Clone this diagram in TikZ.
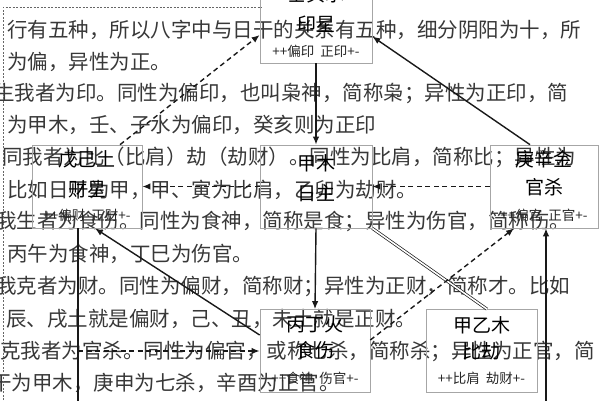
\documentclass[tikz,border=0pt]{standalone}
\usepackage{fontspec}
\newfontfamily\cjk{Noto Sans CJK SC}
\usetikzlibrary{arrows.meta,calc}
\begin{document}
\begin{tikzpicture}[x=1pt,y=-1pt,
  bgtext/.style={anchor=west, inner sep=0pt, font=\cjk\fontsize{20.5}{20.5}\selectfont, text=black!78},
  boxnode/.style={draw=black!35, line width=0.7pt, minimum width=#1, minimum height=83pt, inner sep=0pt},
  bigtext/.style={inner sep=0pt, font=\cjk\fontsize{19}{19}\selectfont, text=black},
  smalltext/.style={inner sep=0pt, font=\cjk\fontsize{13.5}{13.5}\selectfont, text=black!85},
  solidarrow/.style={line width=1.4pt, draw=black!90, -{Latex[length=8pt,width=6.5pt]}},
  dasharrow/.style={line width=1.4pt, draw=black!90, dash pattern=on 5pt off 3.5pt, -{Latex[length=8pt,width=6.5pt]}},
  plainline/.style={line width=1.4pt, draw=black!90},
  dbl/.style={line width=0.7pt, draw=black!90, double=white, double distance=1.6pt},
  frameline/.style={line width=0.8pt, draw=black!60, dash pattern=on 2pt off 1.5pt}]
\useasboundingbox (0,0) rectangle (600,400);
\fill[white] (0,0) rectangle (600,400);
% background text lines
\node[bgtext] (t1) at (7,30) {行有五种，所以八字中与日干的关系有五种，细分阴阳为十，所};
\node[bgtext] (t2) at (7,62) {为偏，异性为正。};
\node[bgtext] (t3) at (-6,93) {生我者为印。同性为偏印，也叫枭神，简称枭；异性为正印，简};
\node[bgtext] (t4) at (7,125) {为甲木，壬、子水为偏印，癸亥则为正印};
\node[bgtext] (t5) at (2,157) {同我者为比（比肩）劫（劫财）。同性为比肩，简称比；异性为};
\node[bgtext] (t6) at (7,190) {比如日干为甲，甲、寅为比肩，乙卯为劫财。};
\node[bgtext] (t7) at (-4,221) {我生者为食伤。同性为食神，简称是食；异性为伤官，简称伤。};
\node[bgtext] (t8) at (7,254) {丙午为食神，丁巳为伤官。};
\node[bgtext] (t9) at (-4,287) {我克者为财。同性为偏财，简称财；异性为正财，简称才。比如};
\node[bgtext] (t10) at (6,319) {辰、戌土就是偏财，己、丑，未土就是正财。};
\node[bgtext] (t11) at (0,351) {克我者为官杀。同性为偏官，或称七杀，简称杀；异性为正官，简};
\node[bgtext] (t12) at (-9,383) {干为甲木，庚申为七杀，辛酉为正官。};
% frame of the text block
\coordinate (fa) at (3,400);
\coordinate (fb) at (3,7);
\coordinate (fc) at (262,7);
\draw[frameline] (fa) -- (fb) -- (fc);
% boxes
\node[boxnode=112pt] (yin) at (316,21.5) {};
\node[boxnode=110pt] (cai) at (87,186.5) {};
\node[boxnode=112pt] (ri) at (316,186.5) {};
\node[boxnode=108pt] (guan) at (544,186.5) {};
\node[boxnode=110pt] (shi) at (315,351) {};
\node[boxnode=111pt] (bi) at (481.5,351) {};
% box texts
\node[bigtext] (yin1) at ($(yin.north)+(0,15)$) {壬癸水};
\node[bigtext] (yin2) at ($(yin.north)+(0,45)$) {印星};
\node[smalltext] (yin3) at ($(yin.north)+(0,72)$) {++偏印\ \ 正印+-};
\node[bigtext] (cai1) at ($(cai.north)+(0,15)$) {戊己土};
\node[bigtext] (cai2) at ($(cai.north)+(0,45)$) {财星};
\node[smalltext] (cai3) at ($(cai.north)+(0,71)$) {++偏财\ \ 正财+-};
\node[bigtext] (ri1) at ($(ri.north)+(0,19)$) {甲木};
\node[bigtext] (ri2) at ($(ri.north)+(0,49)$) {日主};
\node[bigtext] (guan1) at ($(guan.north)+(0,15)$) {庚辛金};
\node[bigtext] (guan2) at ($(guan.north)+(0,43)$) {官杀};
\node[smalltext] (guan3) at ($(guan.north)+(0,71)$) {++偏官\ \ 正官+-};
\node[bigtext] (shi1) at ($(shi.north)+(0,15)$) {丙丁火};
\node[bigtext] (shi2) at ($(shi.north)+(0,41)$) {食伤};
\node[smalltext] (shi3) at ($(shi.north)+(0,69)$) {++食神\ \ 伤官+-};
\node[bigtext] (bi1) at ($(bi.north)+(0,16)$) {甲乙木};
\node[bigtext] (bi2) at ($(bi.north)+(0,42)$) {比劫};
\node[smalltext] (bi3) at ($(bi.north)+(0,69)$) {++比肩\ \ 劫财+-};
% connectors
\draw[solidarrow] (yin.south) -- (ri.north);
\draw[dasharrow] ([xshift=33pt]cai.north) -- ([yshift=-13.5pt]yin.west);
\draw[solidarrow] ([xshift=-14pt]guan.north) -- ([yshift=-15pt]yin.east);
\draw[dasharrow] (guan.west) -- (ri.east);
\draw[dasharrow] (ri.west) -- (cai.east);
\coordinate (cdown) at (78,405);
\draw[plainline] ([xshift=-9pt]cai.south) -- (cdown);
\draw[solidarrow] ([yshift=16pt]shi.west) -- ([xshift=8pt]cai.south);
\coordinate (lmid) at (78,351);
\draw[dasharrow] (lmid) -- (shi.west);
\draw[solidarrow] (ri.south) -- (shi.north);
\draw[dbl] (ri.south east) -- ([xshift=5.5pt]bi.north);
\draw[dasharrow] ([yshift=11pt]shi.east) -- ([xshift=-30pt]guan.south);
\coordinate (gdown) at (546,405);
\draw[solidarrow] (gdown) -- ([xshift=2pt]guan.south);
\end{tikzpicture}
\end{document}
